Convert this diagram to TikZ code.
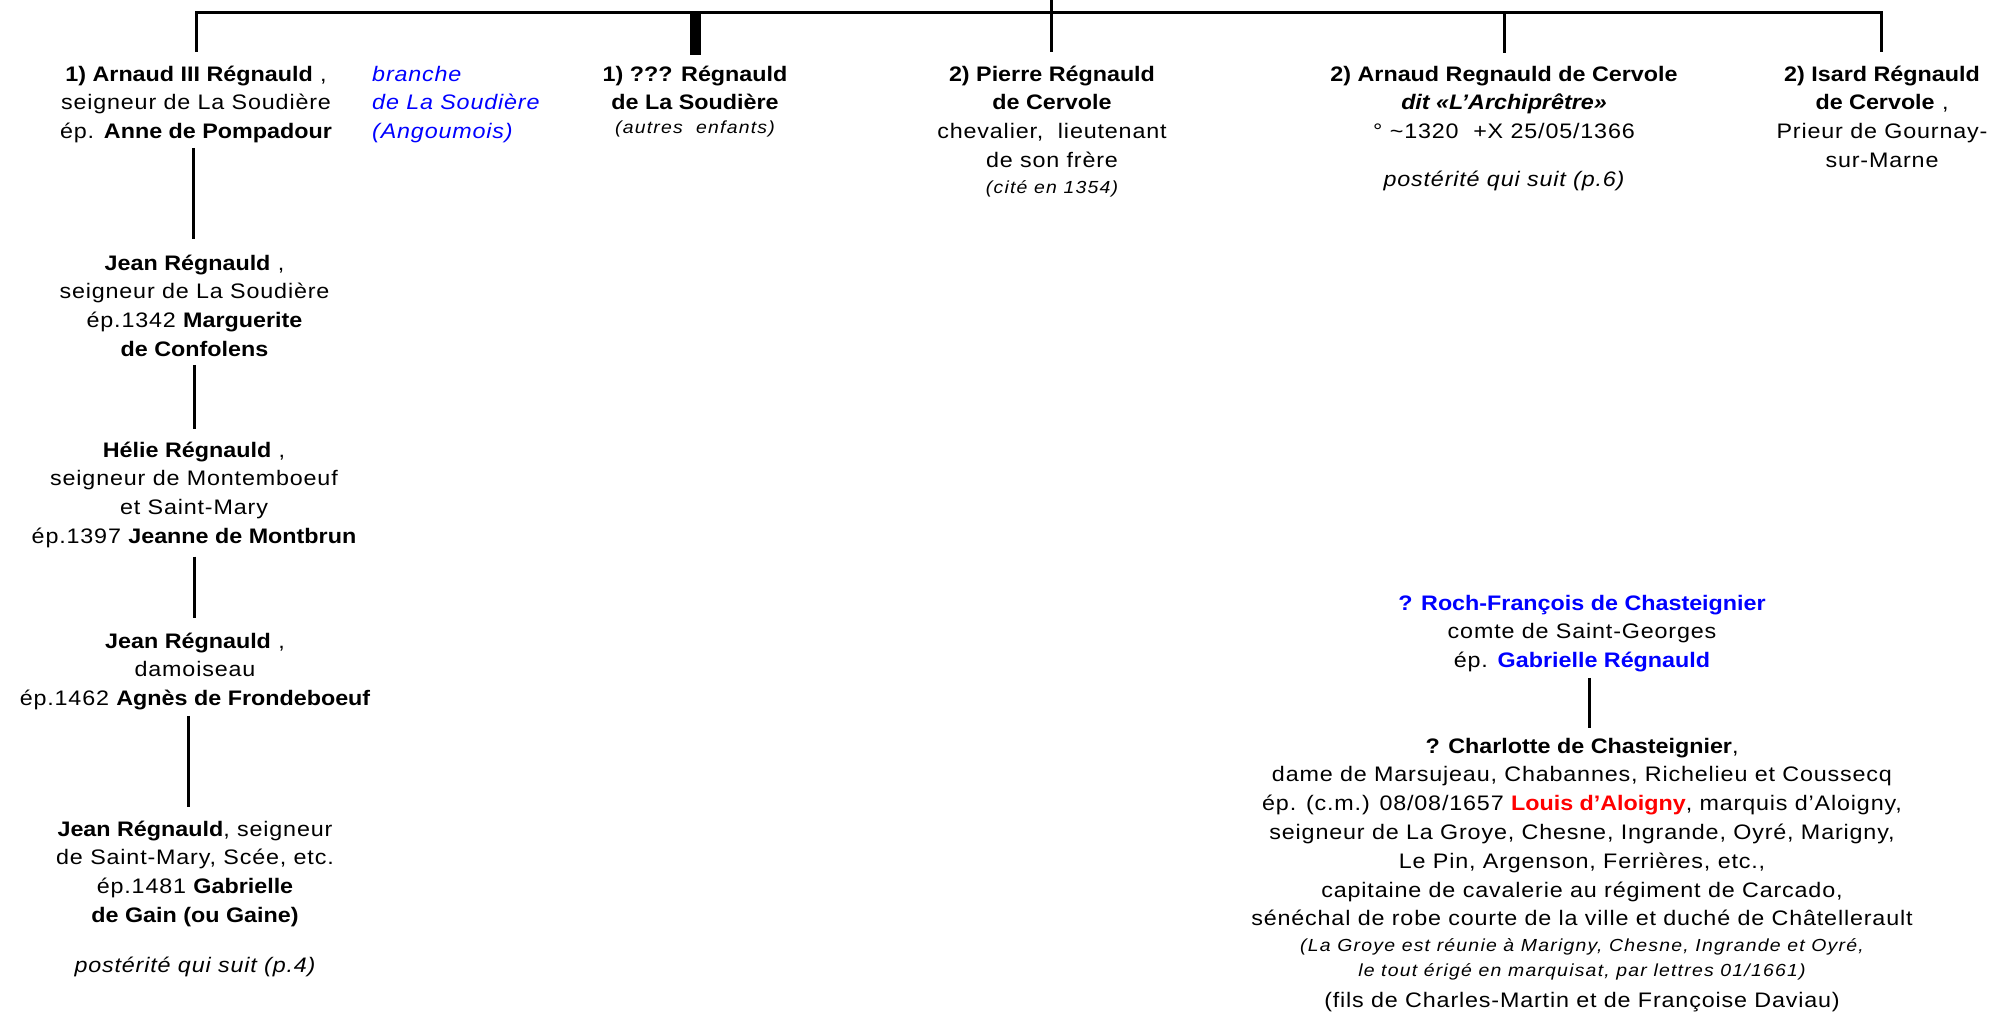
\documentclass[tikz,border=0pt]{standalone}
\usepackage{fontspec}
\setmainfont{Liberation Sans}
\newfontfamily\rgf[FakeStretch=1.11,LetterSpace=4]{Liberation Sans}
\newfontfamily\bdf[FakeStretch=1.11]{Liberation Sans}
\newfontfamily\smf[FakeStretch=1.11,LetterSpace=7]{Liberation Sans}
\newcommand\B[1]{{\bdf\bfseries #1}}
\newcommand\BI[1]{{\bdf\bfseries\itshape #1}}
\definecolor{bl}{RGB}{0,0,255}
\definecolor{rd}{RGB}{255,0,0}
\begin{document}
\begin{tikzpicture}[x=1pt,y=-1pt,
  txtnode/.style={align=center, inner sep=0pt, anchor=base, font=\rgf\fontsize{21}{28.8}\selectfont},
  itl/.style={txtnode, font=\rgf\itshape\fontsize{21}{28.8}\selectfont},
  smallit/.style={txtnode, font=\smf\itshape\fontsize{17.5}{25}\selectfont},
  blueit/.style={txtnode, align=left, anchor=base west, text=bl, font=\rgf\itshape\fontsize{21}{28.8}\selectfont},
  conn/.style={line width=3pt},
  bus/.style={line width=3pt, line cap=rect},
  thickstub/.style={line width=11pt}]
\useasboundingbox (0,0) rectangle (1992,1012);
\fill[white] (0,0) rectangle (1992,1012);

% top generation (node positions are the baseline of the LAST line)
\node[txtnode] (A) at (196,138.6) {\B{1) Arnaud III Régnauld} ,\\ seigneur de La Soudière\\ ép. \B{Anne de Pompadour}};
\node[blueit] (Br) at (372,138.6) {branche\\ de La Soudière\\ (Angoumois)};
\node[txtnode] (Q) at (695,109.8) {\B{1) ??? Régnauld}\\ \B{de La Soudière}};
\node[smallit] (Q2) at (695,133) {(autres\ \ enfants)};
\node[txtnode] (P) at (1052,167.4) {\B{2) Pierre Régnauld}\\ \B{de Cervole}\\ chevalier,\ \ lieutenant\\ de son frère};
\node[smallit] (P2) at (1052,193) {(cité en 1354)};
\node[txtnode] (C) at (1504,138.6) {\B{2) Arnaud Regnauld de Cervole}\\ \BI{dit «L’Archiprêtre»}\\ ° \textasciitilde1320\ \ +X 25/05/1366};
\node[itl] (C2) at (1504,186) {postérité qui suit (p.6)};
\node[txtnode] (I) at (1882,167.4) {\B{2) Isard Régnauld}\\ \B{de Cervole} ,\\ Prieur de Gournay-\\ sur-Marne};

% left column
\node[txtnode] (J1) at (194.5,356.4) {\B{Jean Régnauld} ,\\ seigneur de La Soudière\\ ép.1342 \B{Marguerite}\\ \B{de Confolens}};
\node[txtnode] (H) at (194,543.4) {\B{Hélie Régnauld} ,\\ seigneur de Montemboeuf\\ et Saint-Mary\\ ép.1397 \B{Jeanne de Montbrun}};
\node[txtnode] (D) at (195,705.6) {\B{Jean Régnauld} ,\\ damoiseau\\ ép.1462 \B{Agnès de Frondeboeuf}};
\node[txtnode] (L) at (195,922.4) {\B{Jean Régnauld}, seigneur\\ de Saint-Mary, Scée, etc.\\ ép.1481 \B{Gabrielle}\\ \B{de Gain (ou Gaine)}};
\node[itl] (L2) at (195,972) {postérité qui suit (p.4)};

% right column
\node[txtnode] (R) at (1582,667.6) {\textcolor{bl}{\B{? Roch-François de Chasteignier}}\\ comte de Saint-Georges\\ ép. \textcolor{bl}{\B{Gabrielle Régnauld}}};
\node[txtnode] (Ch) at (1582,925.8) {\B{? Charlotte de Chasteignier},\\ dame de Marsujeau, Chabannes, Richelieu et Coussecq\\ ép. (c.m.) 08/08/1657 \textcolor{rd}{\B{Louis d’Aloigny}}, marquis d’Aloigny,\\ seigneur de La Groye, Chesne, Ingrande, Oyré, Marigny,\\ Le Pin, Argenson, Ferrières, etc.,\\ capitaine de cavalerie au régiment de Carcado,\\ sénéchal de robe courte de la ville et duché de Châtellerault};
\node[smallit] (Ch2) at (1582,976) {(La Groye est réunie à Marigny, Chesne, Ingrande et Oyré,\\ le tout érigé en marquisat, par lettres 01/1661)};
\node[txtnode] (Ch3) at (1582,1007) {(fils de Charles-Martin et de Françoise Daviau)};

% bus and stubs
\coordinate (busL) at (196,12);
\coordinate (busR) at (1881,12);
\coordinate (root) at (1051,0);
\draw[bus] (busL) -- (busR);
\draw[conn] (A.north |- busL) -- ([yshift=13pt]A.north);
\draw[thickstub] (Q.north |- busL) -- ([yshift=10pt]Q.north);
\draw[conn] (root) -- ([yshift=13pt]root |- P.north);
\draw[conn] (C.north |- busL) -- ([yshift=13pt]C.north);
\draw[conn] (busR) -- ([yshift=13pt]busR |- I.north);

% descent connectors
\draw[conn] ([xshift=-3pt,yshift=-4.6pt]A.south) -- ([xshift=-3pt,yshift=15pt]A.south |- J1.north);
\draw[conn] ([yshift=-8pt]J1.south) -- ([yshift=12.3pt]J1.south |- H.north);
\draw[conn] ([yshift=-8.6pt]H.south) -- ([yshift=14.3pt]H.south |- D.north);
\draw[conn] ([xshift=-7pt,yshift=-5.6pt]D.south) -- ([xshift=-7pt,yshift=13.3pt]D.south |- L.north);
\draw[conn] ([xshift=7pt,yshift=-5.6pt]R.south) -- ([xshift=7pt,yshift=9.3pt]R.south |- Ch.north);
\end{tikzpicture}
\end{document}
